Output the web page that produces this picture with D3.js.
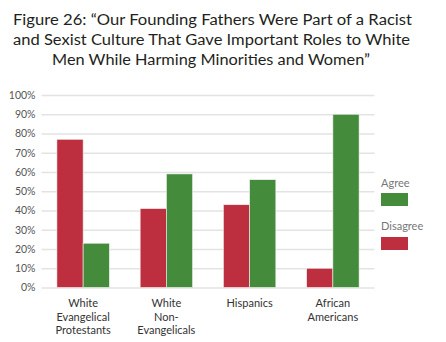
<!DOCTYPE html>
<html>
<head>
<meta charset="utf-8">
<script src="https://cdn.jsdelivr.net/npm/d3@7"></script>
<style>
  html, body { margin: 0; padding: 0; background: #fff; }
  svg { display: block; font-family: Lato, "Open Sans", sans-serif; }
</style>
</head>
<body>
<svg id="chart" width="446" height="342"></svg>
<script>
// Survey groups and shares (percent)
const categories = [
  ["White", "Evangelical", "Protestants"],
  ["White", "Non-", "Evangelicals"],
  ["Hispanics"],
  ["African", "Americans"]
];
const disagree = [77, 41, 43, 10];
const agree = [23, 59, 56, 90];
const yTicks = [0, 10, 20, 30, 40, 50, 60, 70, 80, 90, 100];
const titleLines = [
  "Figure 26: \u201cOur Founding Fathers Were Part of a Racist",
  "and Sexist Culture That Gave Important Roles to White",
  "Men While Harming Minorities and Women\u201d"
];
const seriesNames = ["Agree", "Disagree"];

const colors = { Agree: "#448b3b", Disagree: "#bd2e3e" };

const svg = d3.select("#chart");

// Title
const titleSpans = [
  { x: 212.5, y: 25, w: 399 },
  { x: 211.5, y: 45, w: 397 },
  { x: 211, y: 65, w: 318 }
];
svg.append("g").selectAll("text")
  .data(titleLines)
  .join("text")
  .attr("x", (d, i) => titleSpans[i].x)
  .attr("y", (d, i) => titleSpans[i].y)
  .attr("text-anchor", "middle")
  .attr("textLength", (d, i) => titleSpans[i].w)
  .attr("lengthAdjust", "spacingAndGlyphs")
  .attr("font-size", 15.5)
  .attr("fill", "#231f20")
  .text(d => d);

// Plot area
const plotLeft = 41.5, plotRight = 374.5, plotTop = 95, plotBottom = 287.5;

const x0 = d3.scaleBand()
  .domain(d3.range(categories.length))
  .range([plotLeft, plotRight])
  .paddingInner(0.37)
  .paddingOuter(0.185);

const x1 = d3.scaleBand()
  .domain(["Disagree", "Agree"])
  .range([0, x0.bandwidth()]);

const y = d3.scaleLinear().domain([0, 100]).range([plotBottom, plotTop]);

// Gridlines and y labels
const yAxis = d3.axisLeft(y)
  .tickValues(yTicks)
  .tickSize(-(plotRight - plotLeft))
  .tickPadding(6)
  .tickFormat(d => d + "%");

const gy = svg.append("g")
  .attr("transform", `translate(${plotLeft},0)`)
  .call(yAxis);
gy.select(".domain").remove();
gy.selectAll(".tick line")
  .attr("stroke", "#e3e3e3")
  .attr("stroke-width", 1.5);
gy.selectAll(".tick text")
  .attr("font-size", 10.5)
  .attr("fill", "#555")
  .attr("font-family", "Lato, sans-serif");

// Bars
const groups = svg.append("g").selectAll("g")
  .data(categories.map((c, i) => ({ i, values: [
    { key: "Disagree", value: disagree[i] },
    { key: "Agree", value: agree[i] }
  ] })))
  .join("g")
  .attr("transform", d => `translate(${x0(d.i)},0)`);

groups.selectAll("rect")
  .data(d => d.values)
  .join("rect")
  .attr("x", d => x1(d.key))
  .attr("width", x1.bandwidth())
  .attr("y", d => y(d.value))
  .attr("height", d => y(0) - y(d.value))
  .attr("fill", d => colors[d.key])
  .attr("stroke", "#f4f4f4")
  .attr("stroke-width", 0.6);

// Category labels
const gx = svg.append("g");
categories.forEach((lines, i) => {
  const cx = x0(i) + x0.bandwidth() / 2;
  const t = gx.append("text")
    .attr("x", cx)
    .attr("y", 307)
    .attr("text-anchor", "middle")
    .attr("font-size", 11)
    .attr("fill", "#333");
  lines.forEach((line, j) => {
    t.append("tspan")
      .attr("x", cx)
      .attr("dy", j === 0 ? 0 : 13.5)
      .text(line);
  });
});

// Legend
const legend = svg.append("g").attr("transform", "translate(381,0)");
const legendRows = [
  { name: seriesNames[0], textY: 187, boxY: 193 },
  { name: seriesNames[1], textY: 229.5, boxY: 237 }
];
legendRows.forEach(r => {
  legend.append("text")
    .attr("x", 0)
    .attr("y", r.textY)
    .attr("font-size", 11)
    .attr("fill", "#777")
    .text(r.name);
  legend.append("rect")
    .attr("x", 0)
    .attr("y", r.boxY)
    .attr("width", 27)
    .attr("height", 13)
    .attr("fill", colors[r.name]);
});
</script>
</body>
</html>
